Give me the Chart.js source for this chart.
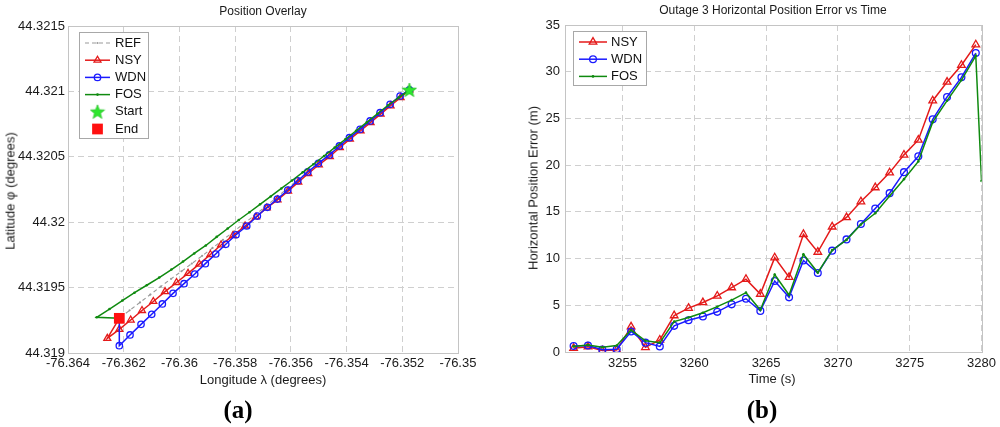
<!DOCTYPE html>
<html><head><meta charset="utf-8">
<script src="https://cdn.jsdelivr.net/npm/chart.js@4.4.1/dist/chart.umd.min.js"></script>
<style>
body{margin:0;background:#fff;width:1000px;height:427px;overflow:hidden;position:relative;font-family:"Liberation Sans",Arial,sans-serif;}
canvas{position:absolute;top:0;}
.t{position:absolute;white-space:nowrap;color:#1a1a1a;transform:translate(-50%,-50%);line-height:1;}
.s12{font-size:12px;}
.s13{font-size:13px;}
.rot{transform:translate(-50%,-50%) rotate(-90deg);}
.lab{font-family:"Liberation Serif","Times New Roman",serif;font-weight:bold;font-size:25px;color:#000;}
</style></head>
<body>
<canvas id="ca" width="500" height="400" style="left:0"></canvas>
<canvas id="cb" width="500" height="400" style="left:500px"></canvas>
<div class="t s12" style="left:263px;top:11px">Position Overlay</div>
<div class="t s12" style="left:773px;top:10px">Outage 3 Horizontal Position Error vs Time</div>
<div class="t s13" style="left:263px;top:379px">Longitude λ (degrees)</div>
<div class="t s13" style="left:772px;top:378px">Time (s)</div>
<div class="t s13 rot" style="left:10px;top:191px">Latitude φ (degrees)</div>
<div class="t s13 rot" style="left:533px;top:188px">Horizontal Position Error (m)</div>
<div class="t lab" style="left:238px;top:409px">(a)</div>
<div class="t lab" style="left:762px;top:409px">(b)</div>
<script>
// ---------- Panel (a) data ----------
const refLon = [-76.351745,-76.352115,-76.352488,-76.352858,-76.353232,-76.353605,-76.353975,-76.354348,-76.354718,-76.355092,-76.355465,-76.355835,-76.356208,-76.356578,-76.356952,-76.357325,-76.357695,-76.358068,-76.358438,-76.358811,-76.359185,-76.359555,-76.359928,-76.360298,-76.360671,-76.361045,-76.361415,-76.361788,-76.362158];
const refLat = [44.321011,44.320947,44.320884,44.320821,44.320757,44.320693,44.320630,44.320566,44.320502,44.320437,44.320373,44.320309,44.320243,44.320178,44.320112,44.320049,44.319988,44.319926,44.319865,44.319803,44.319743,44.319684,44.319625,44.319567,44.319508,44.319447,44.319387,44.319326,44.319265];
const nsyLon = [-76.351745,-76.352061,-76.352420,-76.352779,-76.353138,-76.353497,-76.353881,-76.354240,-76.354600,-76.354995,-76.355375,-76.355734,-76.356100,-76.356478,-76.356865,-76.357250,-76.357645,-76.358075,-76.358506,-76.358890,-76.359289,-76.359691,-76.360104,-76.360517,-76.360937,-76.361343,-76.361749,-76.362158,-76.362589,-76.362158];
const nsyLat = [44.321011,44.320953,44.320890,44.320826,44.320762,44.320699,44.320635,44.320571,44.320502,44.320439,44.320372,44.320306,44.320238,44.320171,44.320109,44.320040,44.319971,44.319898,44.319826,44.319753,44.319679,44.319609,44.319539,44.319469,44.319394,44.319325,44.319252,44.319181,44.319112,44.319265];
const wdnLon = [-76.351745,-76.352079,-76.352438,-76.352797,-76.353156,-76.353515,-76.353899,-76.354258,-76.354617,-76.355012,-76.355393,-76.355752,-76.356111,-76.356485,-76.356844,-76.357203,-76.357583,-76.357968,-76.358337,-76.358697,-76.359070,-76.359451,-76.359835,-76.360230,-76.360614,-76.360995,-76.361379,-76.361774,-76.362158,-76.362158];
const wdnLat = [44.321011,44.320965,44.320901,44.320837,44.320774,44.320710,44.320646,44.320583,44.320514,44.320450,44.320384,44.320317,44.320246,44.320177,44.320114,44.320047,44.319971,44.319904,44.319831,44.319757,44.319683,44.319604,44.319530,44.319456,44.319375,44.319296,44.319219,44.319138,44.319056,44.319265];
const fosLon = [-76.351745,-76.352129,-76.352510,-76.352894,-76.353278,-76.353659,-76.354043,-76.354427,-76.354808,-76.355192,-76.355576,-76.355957,-76.356341,-76.356722,-76.357106,-76.357487,-76.357871,-76.358266,-76.358661,-76.359052,-76.359469,-76.359871,-76.360287,-76.360725,-76.361174,-76.361612,-76.362050,-76.362510,-76.362970,-76.362158];
const fosLat = [44.321011,44.320953,44.320894,44.320829,44.320763,44.320699,44.320634,44.320570,44.320506,44.320443,44.320381,44.320319,44.320258,44.320197,44.320137,44.320076,44.320017,44.319952,44.319888,44.319822,44.319761,44.319699,44.319638,44.319577,44.319518,44.319461,44.319401,44.319336,44.319273,44.319265];
const startPt = [-76.351745, 44.321011];
const endPt = [-76.362158, 44.319265];
const lonTicks = [-76.364,-76.362,-76.36,-76.358,-76.356,-76.354,-76.352,-76.35];
const lonTickLabels = ['-76.364','-76.362','-76.36','-76.358','-76.356','-76.354','-76.352','-76.35'];
const latTicks = [44.319,44.3195,44.32,44.3205,44.321,44.3215];
const latTickLabels = ['44.319','44.3195','44.32','44.3205','44.321','44.3215'];

// ---------- Panel (b) data ----------
const times = [3251.6,3252.6,3253.6,3254.6,3255.6,3256.6,3257.6,3258.6,3259.6,3260.6,3261.6,3262.6,3263.6,3264.6,3265.6,3266.6,3267.6,3268.6,3269.6,3270.6,3271.6,3272.6,3273.6,3274.6,3275.6,3276.6,3277.6,3278.6,3279.6];
const nsyErr = [0.4,0.57,0.15,0.2,2.7,0.5,1.3,3.9,4.7,5.3,6.0,6.9,7.8,6.2,10.1,8.0,12.6,10.7,13.4,14.4,16.1,17.6,19.2,21.1,22.7,26.9,28.9,30.7,32.9];
const wdnErr = [0.64,0.7,0.25,0.3,2.2,1.0,0.6,2.8,3.4,3.8,4.3,5.1,5.7,4.4,7.6,5.85,9.8,8.45,10.85,12.05,13.7,15.35,17.0,19.25,20.95,24.9,27.3,29.4,32.0];
const fosTimes = [3251.6,3252.6,3253.6,3254.6,3255.6,3256.6,3257.6,3258.6,3259.6,3260.6,3261.6,3262.6,3263.6,3264.6,3265.6,3266.6,3267.6,3268.6,3269.6,3270.6,3271.6,3272.6,3273.6,3274.6,3275.6,3276.6,3277.6,3278.6,3279.6,3280];
const fosErr = [0.6,0.75,0.5,0.7,2.35,1.2,1.0,3.25,3.7,4.2,4.85,5.55,6.35,4.5,8.3,6.1,10.45,8.5,10.9,12.0,13.65,14.85,16.7,18.5,20.4,24.6,26.9,29.1,31.7,18.3];
const timeTicks = [3255,3260,3265,3270,3275,3280];
const errTicks = [0,5,10,15,20,25,30,35];

// ---------- styles ----------
const RED = '#e41a1a', BLUE = '#1a1aff', GREEN = '#0f8a0f', GRAY = '#9a9a9a', STARC = '#2ee62e';
const FONT = {family:'"Liberation Sans", Arial, sans-serif', size:13};

function makeStar(size){
  const c = document.createElement('canvas'); c.width = c.height = size;
  const g = c.getContext('2d'); const cx = size/2, cy = size/2 + 0.5, R = size/2 - 0.5, r = R*0.42;
  g.beginPath();
  for (let i=0;i<10;i++){ const a = -Math.PI/2 + i*Math.PI/5; const rr = i%2 ? r : R; g.lineTo(cx+rr*Math.cos(a), cy+rr*Math.sin(a)); }
  g.closePath(); g.fillStyle = STARC; g.fill(); g.strokeStyle = '#22c022'; g.lineWidth = 0.7; g.stroke();
  return c;
}
const star = makeStar(16);

const pts = (xs, ys) => xs.map((x,i)=>({x, y: ys[i]}));

const frame = {
  id:'frame',
  beforeDatasetsDraw(chart){
    const a = chart.chartArea, ctx = chart.ctx;
    ctx.save(); ctx.strokeStyle = '#c4c4c4'; ctx.lineWidth = 1;
    ctx.strokeRect(Math.round(a.left)+0.5, Math.round(a.top)+0.5, Math.round(a.right-a.left), Math.round(a.bottom-a.top));
    ctx.restore();
  }
};
const boxLegend = {
  id:'boxLegend',
  afterDatasetsDraw(chart, args, o){
    if (!o || !o.items) return;
    const ctx = chart.ctx; ctx.save();
    ctx.fillStyle = '#fff'; ctx.fillRect(o.x, o.y, o.w, o.h);
    ctx.strokeStyle = '#a8a8a8'; ctx.lineWidth = 1; ctx.strokeRect(o.x+0.5, o.y+0.5, o.w, o.h);
    ctx.textBaseline = 'middle'; ctx.font = '13px "Liberation Sans", Arial, sans-serif';
    o.items.forEach((it,i)=>{
      const y = o.y0 + i*o.dy, cx = (o.lx0+o.lx1)/2;
      if (it.line){
        ctx.beginPath(); ctx.setLineDash(it.dash || []); ctx.strokeStyle = it.color; ctx.lineWidth = it.lw;
        ctx.moveTo(o.lx0, y); ctx.lineTo(o.lx1, y); ctx.stroke(); ctx.setLineDash([]);
      }
      if (it.point){
        ctx.fillStyle = it.fill; ctx.strokeStyle = it.color; ctx.lineWidth = it.pbw || 1;
        Chart.helpers.drawPoint(ctx, it.point, cx, y);
      }
      ctx.fillStyle = '#111'; ctx.fillText(it.label, o.tx, y);
    });
    ctx.restore();
  }
};

function fixedTicks(values){ return function(scale){ scale.ticks = values.map(v=>({value:v})); }; }
const gridOpts = {color:'#cfcfcf', lineWidth:1, drawTicks:false};
const borderOpts = {display:false, dash:[6,4]};

// ---------- Chart (a) ----------
new Chart(document.getElementById('ca'), {
  type:'scatter',
  data:{datasets:[
    {label:'End', data:[{x:endPt[0], y:endPt[1]}], pointStyle:'rect', pointRadius:7.6, backgroundColor:'#ff1010', borderColor:'#ff1010', borderWidth:0, order:0},
    {label:'Start', data:[{x:startPt[0], y:startPt[1]}], pointStyle:star, pointRadius:8, backgroundColor:STARC, borderColor:STARC, order:1},
    {label:'FOS', data:pts(fosLon,fosLat), showLine:true, borderColor:GREEN, borderWidth:1.5, pointStyle:'circle', pointRadius:1.3, pointBackgroundColor:GREEN, pointBorderColor:GREEN, pointBorderWidth:0, order:2},
    {label:'WDN', data:pts(wdnLon,wdnLat), showLine:true, borderColor:BLUE, borderWidth:1.5, pointStyle:'circle', pointRadius:3.2, pointBackgroundColor:'rgba(0,0,0,0)', pointBorderColor:BLUE, pointBorderWidth:1.3, order:3},
    {label:'NSY', data:pts(nsyLon,nsyLat), showLine:true, borderColor:RED, borderWidth:1.5, pointStyle:'triangle', pointRadius:4, pointBackgroundColor:'rgba(0,0,0,0)', pointBorderColor:RED, pointBorderWidth:1.3, order:4},
    {label:'REF', data:pts(refLon,refLat), showLine:true, borderColor:GRAY, borderWidth:1.1, borderDash:[4,3], pointStyle:'circle', pointRadius:1.1, pointBackgroundColor:GRAY, pointBorderWidth:0, order:5}
  ]},
  options:{
    responsive:false, animation:false, devicePixelRatio:1,
    layout:{padding:{left:0, right:42, top:26, bottom:0}},
    elements:{line:{tension:0}},
    plugins:{
      legend:{display:false}, tooltip:{enabled:false},
      boxLegend:{x:79, y:32, w:69, h:106, y0:43, dy:17.2, lx0:85, lx1:110, tx:115, items:[
        {label:'REF', line:true, color:GRAY, lw:1.1, dash:[4,3], point:{pointStyle:'circle', radius:1.1}, fill:GRAY, pbw:0},
        {label:'NSY', line:true, color:RED, lw:1.5, point:{pointStyle:'triangle', radius:4, borderWidth:1.3}, fill:'rgba(0,0,0,0)', pbw:1.3},
        {label:'WDN', line:true, color:BLUE, lw:1.5, point:{pointStyle:'circle', radius:3.2, borderWidth:1.3}, fill:'rgba(0,0,0,0)', pbw:1.3},
        {label:'FOS', line:true, color:GREEN, lw:1.5, point:{pointStyle:'circle', radius:1.3}, fill:GREEN, pbw:0},
        {label:'Start', line:false, color:STARC, point:{pointStyle:star, radius:8}, fill:STARC},
        {label:'End', line:false, color:'#ff1010', point:{pointStyle:'rect', radius:7.6}, fill:'#ff1010', pbw:0}
      ]}
    },
    scales:{
      x:{type:'linear', min:-76.364, max:-76.35, afterBuildTicks:fixedTicks(lonTicks),
         afterFit(s){ s.height = 47; },
         grid:gridOpts, border:borderOpts,
         ticks:{font:FONT, color:'#1a1a1a', padding:3, maxRotation:0, autoSkip:false,
                callback:(v)=>{ const i = lonTicks.findIndex(t=>Math.abs(t-v)<1e-9); return i>=0 ? lonTickLabels[i] : ''; }}},
      y:{type:'linear', min:44.319, max:44.3215, afterBuildTicks:fixedTicks(latTicks),
         afterFit(s){ s.width = 68; },
         grid:gridOpts, border:borderOpts,
         ticks:{font:FONT, color:'#1a1a1a', padding:3, autoSkip:false,
                callback:(v)=>{ const i = latTicks.findIndex(t=>Math.abs(t-v)<1e-9); return i>=0 ? latTickLabels[i] : ''; }}}
    }
  },
  plugins:[frame, boxLegend]
});

// ---------- Chart (b) ----------
new Chart(document.getElementById('cb'), {
  type:'scatter',
  data:{datasets:[
    {label:'FOS', data:pts(fosTimes,fosErr), showLine:true, borderColor:GREEN, borderWidth:1.5, pointStyle:'circle', pointRadius:1.3, pointBackgroundColor:GREEN, pointBorderWidth:0, order:0},
    {label:'WDN', data:pts(times,wdnErr), showLine:true, borderColor:BLUE, borderWidth:1.5, pointStyle:'circle', pointRadius:3.4, pointBackgroundColor:'rgba(0,0,0,0)', pointBorderColor:BLUE, pointBorderWidth:1.3, order:1},
    {label:'NSY', data:pts(times,nsyErr), showLine:true, borderColor:RED, borderWidth:1.5, pointStyle:'triangle', pointRadius:4.4, pointBackgroundColor:'rgba(0,0,0,0)', pointBorderColor:RED, pointBorderWidth:1.3, order:2}
  ]},
  options:{
    responsive:false, animation:false, devicePixelRatio:1,
    layout:{padding:{left:0, right:18, top:25, bottom:0}},
    elements:{line:{tension:0}},
    plugins:{
      legend:{display:false}, tooltip:{enabled:false},
      boxLegend:{x:73, y:31, w:73, h:54, y0:42, dy:17.2, lx0:79, lx1:107, tx:111, items:[
        {label:'NSY', line:true, color:RED, lw:1.5, point:{pointStyle:'triangle', radius:4.4, borderWidth:1.3}, fill:'rgba(0,0,0,0)', pbw:1.3},
        {label:'WDN', line:true, color:BLUE, lw:1.5, point:{pointStyle:'circle', radius:3.4, borderWidth:1.3}, fill:'rgba(0,0,0,0)', pbw:1.3},
        {label:'FOS', line:true, color:GREEN, lw:1.5, point:{pointStyle:'circle', radius:1.3}, fill:GREEN, pbw:0}
      ]}
    },
    scales:{
      x:{type:'linear', min:3251, max:3280, afterBuildTicks:fixedTicks(timeTicks),
         afterFit(s){ s.height = 48; },
         grid:gridOpts, border:borderOpts,
         ticks:{font:FONT, color:'#1a1a1a', padding:4, maxRotation:0, autoSkip:false, callback:(v)=>String(v)}},
      y:{type:'linear', min:0, max:35, afterBuildTicks:fixedTicks(errTicks),
         afterFit(s){ s.width = 65; },
         grid:gridOpts, border:borderOpts,
         ticks:{font:FONT, color:'#1a1a1a', padding:5, autoSkip:false, callback:(v)=>String(v)}}
    }
  },
  plugins:[frame, boxLegend]
});
</script>
</body></html>
